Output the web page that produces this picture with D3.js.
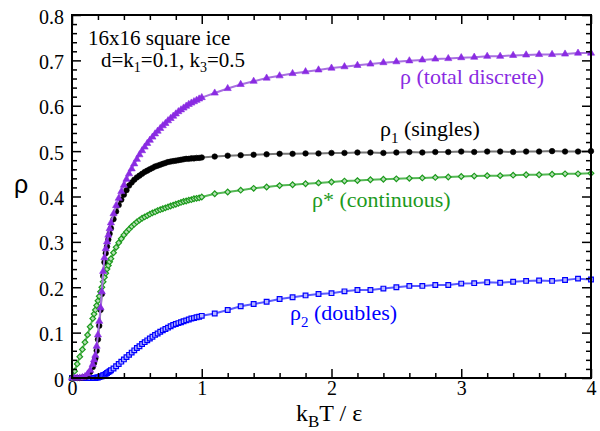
<!DOCTYPE html>
<html>
<head>
<meta charset="utf-8">
<script src="https://cdn.jsdelivr.net/npm/d3@7/dist/d3.min.js"></script>
<style>
  html, body { margin: 0; padding: 0; background: #fff; }
  svg { display: block; }
</style>
</head>
<body>
<svg id="chart" width="600" height="431"></svg>
<script>
const SERIF = '"Liberation Serif"';

// Temperature grid k_B T / epsilon (dense below 1, coarse above)
const xValues = [
  0, 0.02, 0.04, 0.06, 0.08, 0.10, 0.12, 0.14, 0.16,
  0.17, 0.18, 0.19, 0.20, 0.21, 0.22, 0.23, 0.24, 0.25, 0.26, 0.27, 0.28, 0.29, 0.30,
  0.32, 0.34, 0.36, 0.38, 0.40, 0.42, 0.44, 0.46, 0.48, 0.50, 0.52, 0.54, 0.56, 0.58,
  0.60, 0.62, 0.64, 0.66, 0.68, 0.70, 0.72, 0.74, 0.76, 0.78, 0.80, 0.82, 0.84, 0.86,
  0.88, 0.90, 0.92, 0.94, 0.96, 0.98, 1.00,
  1.1, 1.2, 1.3, 1.4, 1.5, 1.6, 1.7, 1.8, 1.9, 2.0, 2.1, 2.2, 2.3, 2.4, 2.5,
  2.6, 2.7, 2.8, 2.9, 3.0, 3.1, 3.2, 3.3, 3.4, 3.5, 3.6, 3.7, 3.8, 3.9, 4.0
];

// rho (total discrete)
const rhoTotal = [
  0, 0, 0, 0, 0.001, 0.003, 0.009, 0.017, 0.030,
  0.040, 0.050, 0.070, 0.095, 0.125, 0.155, 0.190, 0.235, 0.265, 0.285, 0.300, 0.315, 0.329, 0.342,
  0.362, 0.380, 0.396, 0.411, 0.425, 0.438, 0.450, 0.461, 0.472, 0.482, 0.492, 0.501, 0.509, 0.517,
  0.524, 0.531, 0.538, 0.544, 0.550, 0.556, 0.561, 0.567, 0.572, 0.577, 0.582, 0.587, 0.591, 0.595,
  0.599, 0.603, 0.606, 0.609, 0.612, 0.615, 0.618,
  0.628, 0.638, 0.647, 0.654, 0.661, 0.666, 0.671, 0.675, 0.679, 0.683, 0.686, 0.689, 0.692, 0.695, 0.697,
  0.699, 0.701, 0.703, 0.704, 0.706, 0.707, 0.709, 0.709, 0.711, 0.712, 0.713, 0.713, 0.714, 0.716, 0.716
];

// rho_1 (singles)
const rhoSingles = [
  0, 0, 0, 0, 0.001, 0.002, 0.006, 0.013, 0.024,
  0.033, 0.043, 0.060, 0.085, 0.115, 0.150, 0.185, 0.225, 0.255, 0.275, 0.290, 0.305, 0.318, 0.330,
  0.350, 0.367, 0.381, 0.393, 0.404, 0.414, 0.424, 0.431, 0.437, 0.442, 0.446, 0.450, 0.454, 0.457,
  0.460, 0.463, 0.466, 0.468, 0.470, 0.472, 0.474, 0.476, 0.477, 0.478, 0.479, 0.480, 0.481, 0.482,
  0.483, 0.483, 0.484, 0.484, 0.485, 0.485, 0.486,
  0.488, 0.490, 0.491, 0.492, 0.493, 0.494, 0.494, 0.495, 0.495, 0.496, 0.496, 0.497, 0.497, 0.496, 0.497,
  0.498, 0.497, 0.498, 0.498, 0.499, 0.498, 0.499, 0.499, 0.498, 0.499, 0.499, 0.500, 0.499, 0.499, 0.500
];

// rho* (continuous)
const rhoContinuous = [
  0, 0.015, 0.031, 0.047, 0.063, 0.079, 0.095, 0.113, 0.131,
  0.141, 0.150, 0.160, 0.170, 0.180, 0.190, 0.200, 0.212, 0.222, 0.231, 0.240, 0.248, 0.256, 0.263,
  0.276, 0.288, 0.298, 0.307, 0.315, 0.322, 0.328, 0.334, 0.339, 0.344, 0.348, 0.352, 0.355, 0.358,
  0.361, 0.364, 0.366, 0.369, 0.371, 0.373, 0.375, 0.377, 0.379, 0.381, 0.383, 0.385, 0.387, 0.389,
  0.390, 0.392, 0.393, 0.395, 0.396, 0.397, 0.399,
  0.406, 0.410, 0.414, 0.418, 0.421, 0.424, 0.426, 0.428, 0.430, 0.432, 0.434, 0.435, 0.437, 0.438, 0.439,
  0.440, 0.441, 0.442, 0.443, 0.444, 0.445, 0.446, 0.446, 0.447, 0.448, 0.448, 0.449, 0.450, 0.450, 0.451
];

// rho_2 (doubles)
const rhoDoubles = [
  0, 0, 0, 0, 0, 0, 0, 0, 0,
  0, 0, 0.001, 0.001, 0.002, 0.003, 0.004, 0.006, 0.007, 0.009, 0.011, 0.013, 0.015, 0.017,
  0.021, 0.026, 0.031, 0.036, 0.041, 0.046, 0.051, 0.056, 0.061, 0.066, 0.070, 0.075, 0.079, 0.083,
  0.087, 0.091, 0.095, 0.098, 0.102, 0.105, 0.108, 0.111, 0.114, 0.117, 0.119, 0.121, 0.123, 0.125,
  0.127, 0.129, 0.131, 0.132, 0.134, 0.135, 0.137,
  0.142, 0.150, 0.158, 0.163, 0.168, 0.174, 0.178, 0.182, 0.185, 0.187, 0.191, 0.194, 0.194, 0.197, 0.200,
  0.203, 0.203, 0.205, 0.205, 0.208, 0.209, 0.211, 0.210, 0.212, 0.214, 0.215, 0.214, 0.216, 0.219, 0.217
];

const xTicks = [0, 1, 2, 3, 4];
const xMinorTicks = [0.2, 0.4, 0.6, 0.8, 1.2, 1.4, 1.6, 1.8, 2.2, 2.4, 2.6, 2.8, 3.2, 3.4, 3.6, 3.8];
const yTicks = [0, 0.1, 0.2, 0.3, 0.4, 0.5, 0.6, 0.7, 0.8];
const yTickLabels = ["0", "0.1", "0.2", "0.3", "0.4", "0.5", "0.6", "0.7", "0.8"];
const yMinorTicks = [];
for (let i = 0; i < 40; i++) if (i % 5 !== 0) yMinorTicks.push(i * 0.02);

const svg = d3.select("#chart");
const L = 72, R = 591, T = 15, B = 378;

const x = d3.scaleLinear().domain([0, 4]).range([L, R]);
const y = d3.scaleLinear().domain([0, 0.8]).range([B, T]);

// Series definitions: colour, marker, fill
const series = [
  { values: rhoDoubles, color: "#0000ff", line: "#5a5aff", symbol: "square", fill: "#b8b8ff", size: 22 },
  { values: rhoSingles, color: "#000000", line: "#777777", symbol: "circle", fill: "#000000", size: 24 },
  { values: rhoContinuous, color: "#1c9a1c", line: "#55b855", symbol: "diamond", fill: "#b5e0b5", size: 16 },
  { values: rhoTotal, color: "#8a2be2", line: "#a870e0", symbol: "triangle", fill: "#8a2be2", size: 22 }
];

const symbolTypes = {
  square: d3.symbolSquare,
  circle: d3.symbolCircle,
  diamond: d3.symbolSquare,
  triangle: d3.symbolTriangle
};

const lineGen = d3.line().x((d, i) => x(xValues[i])).y(d => y(d));

series.forEach(s => {
  const g = svg.append("g");
  g.append("path")
    .datum(s.values)
    .attr("d", lineGen)
    .attr("fill", "none")
    .attr("stroke", s.line)
    .attr("stroke-width", 2);
  const sym = d3.symbol().type(symbolTypes[s.symbol]).size(s.size);
  g.selectAll("path.pt")
    .data(s.values)
    .join("path")
    .attr("class", "pt")
    .attr("d", sym)
    .attr("transform", (d, i) => `translate(${x(xValues[i])},${y(d)})` + (s.symbol === "diamond" ? " rotate(45)" : ""))
    .attr("fill", s.fill)
    .attr("stroke", s.color)
    .attr("stroke-width", s.symbol === "circle" || s.symbol === "triangle" ? 0.6 : 1.2);
});

// Frame and ticks on all four sides, pointing inward
const tickStyle = g => {
  g.select(".domain").remove();
  g.selectAll(".tick line").attr("stroke", "#000").attr("stroke-width", 1.5);
  g.selectAll("text").attr("fill", "#000").style("font-family", SERIF).style("font-size", "20px");
};

svg.append("g").attr("transform", `translate(0,${B})`)
  .call(d3.axisBottom(x).tickValues(xTicks).tickFormat(d3.format("d")).tickSize(-9).tickPadding(3))
  .call(tickStyle);
svg.append("g").attr("transform", `translate(0,${B})`)
  .call(d3.axisBottom(x).tickValues(xMinorTicks).tickFormat("").tickSize(-5))
  .call(tickStyle);
svg.append("g").attr("transform", `translate(0,${T})`)
  .call(d3.axisTop(x).tickValues(xTicks).tickFormat("").tickSize(-9))
  .call(tickStyle);
svg.append("g").attr("transform", `translate(0,${T})`)
  .call(d3.axisTop(x).tickValues(xMinorTicks).tickFormat("").tickSize(-5))
  .call(tickStyle);

svg.append("g").attr("transform", `translate(${L},0)`)
  .call(d3.axisLeft(y).tickValues(yTicks).tickFormat((d, i) => yTickLabels[i]).tickSize(-9).tickPadding(8))
  .call(tickStyle)
  .call(g => g.selectAll("text").attr("dy", "0.4em"));
svg.append("g").attr("transform", `translate(${L},0)`)
  .call(d3.axisLeft(y).tickValues(yMinorTicks).tickFormat("").tickSize(-5))
  .call(tickStyle);
svg.append("g").attr("transform", `translate(${R},0)`)
  .call(d3.axisRight(y).tickValues(yTicks).tickFormat("").tickSize(-9))
  .call(tickStyle);
svg.append("g").attr("transform", `translate(${R},0)`)
  .call(d3.axisRight(y).tickValues(yMinorTicks).tickFormat("").tickSize(-5))
  .call(tickStyle);

svg.append("rect")
  .attr("x", L).attr("y", T).attr("width", R - L).attr("height", B - T)
  .attr("fill", "none").attr("stroke", "#000").attr("stroke-width", 2);

// Axis titles
const xt = svg.append("text").attr("x", 296).attr("y", 421)
  .style("font-family", SERIF).style("font-size", "24px").attr("fill", "#000");
xt.append("tspan").text("k");
xt.append("tspan").style("font-size", "17px").attr("dy", 6).text("B");
xt.append("tspan").attr("dy", -6).text("T / ε");

svg.append("text").attr("x", 14).attr("y", 193)
  .style("font-family", '"Liberation Sans"')
  .style("font-size", "25px").attr("fill", "#000").text("ρ");

// Annotation
svg.append("text").attr("x", 88).attr("y", 45).style("font-family", SERIF)
  .style("font-size", "21px").attr("fill", "#000").text("16x16 square ice");
const ann = svg.append("text").attr("x", 101).attr("y", 67).style("font-family", SERIF)
  .style("font-size", "21px").attr("fill", "#000");
ann.append("tspan").text("d=k");
ann.append("tspan").style("font-size", "14px").attr("dy", 5).text("1");
ann.append("tspan").attr("dy", -5).text("=0.1, k");
ann.append("tspan").style("font-size", "14px").attr("dy", 5).text("3");
ann.append("tspan").attr("dy", -5).text("=0.5");

// Series labels
const lab = (xp, yp, color, parts) => {
  const t = svg.append("text").attr("x", xp).attr("y", yp).style("font-family", SERIF)
    .style("font-size", "22px").attr("fill", color);
  parts.forEach(p => {
    const s = t.append("tspan").text(p.text);
    if (p.sub) s.style("font-size", "15px").attr("dy", 7);
    if (p.back) s.attr("dy", -7);
  });
};
lab(400, 84, "#8a2be2", [{ text: "ρ (total discrete)" }]);
lab(380, 136, "#000000", [{ text: "ρ" }, { text: "1", sub: true }, { text: " (singles)", back: true }]);
lab(312, 207, "#1c9a1c", [{ text: "ρ* (continuous)" }]);
lab(290, 320, "#0000ff", [{ text: "ρ" }, { text: "2", sub: true }, { text: " (doubles)", back: true }]);
</script>
</body>
</html>
